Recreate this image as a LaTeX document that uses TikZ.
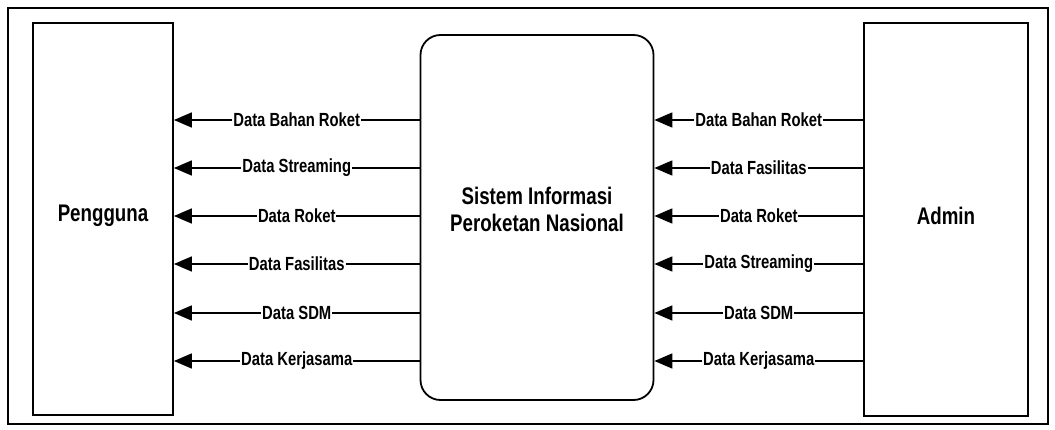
\documentclass[tikz,border=0pt]{standalone}
\usepackage{fontspec}
\setmainfont{Liberation Sans}[FakeStretch=0.78]
\usetikzlibrary{arrows.meta,positioning}
\tikzset{
  entity/.style={draw, line width=1.8pt, align=center, inner sep=0pt,
    font=\fontsize{24}{27}\selectfont\bfseries},
  process/.style={entity, rounded corners=20pt},
  frame/.style={draw, line width=2.2pt},
  lbl/.style={fill=white, inner sep=1pt, font=\fontsize{19}{22}\selectfont\bfseries},
  arr/.style={-{Triangle[length=18pt, width=15pt]}, line width=1.8pt}
}
\begin{document}
\begin{tikzpicture}[x=1pt, y=-1pt]
  \useasboundingbox (0,0) rectangle (1055,430);
  \draw[frame] (8,8) rectangle (1048,424);

  \node[entity, minimum width=140pt, minimum height=392pt] (pengguna) at (103,219) {};
  \node[entity, draw=none] (penggunatxt) at (103,216) {Pengguna};
  \node[process, minimum width=233pt, minimum height=365pt] (sistem) at (537,217.5) {};
  \node[entity, draw=none] (sistemtxt) at (537,209) {Sistem Informasi\\Peroketan Nasional};
  \node[entity, minimum width=164pt, minimum height=393pt] (admin) at (946,219.5) {};
  \node[entity, draw=none] (admintxt) at (946,216) {Admin};

  % sistem -> pengguna
  \draw[arr] (sistem.west |- 0,120) -- node[lbl] {Data Bahan Roket} (pengguna.east |- 0,120);
  \draw[arr] (sistem.west |- 0,168) -- node[lbl] {Data Streaming} (pengguna.east |- 0,168);
  \draw[arr] (sistem.west |- 0,216) -- node[lbl] {Data Roket} (pengguna.east |- 0,216);
  \draw[arr] (sistem.west |- 0,264) -- node[lbl] {Data Fasilitas} (pengguna.east |- 0,264);
  \draw[arr] (sistem.west |- 0,313) -- node[lbl] {Data SDM} (pengguna.east |- 0,313);
  \draw[arr] (sistem.west |- 0,361) -- node[lbl] {Data Kerjasama} (pengguna.east |- 0,361);

  % admin -> sistem
  \draw[arr] (admin.west |- 0,120) -- node[lbl] {Data Bahan Roket} (sistem.east |- 0,120);
  \draw[arr] (admin.west |- 0,168) -- node[lbl] {Data Fasilitas} (sistem.east |- 0,168);
  \draw[arr] (admin.west |- 0,216) -- node[lbl] {Data Roket} (sistem.east |- 0,216);
  \draw[arr] (admin.west |- 0,264) -- node[lbl] {Data Streaming} (sistem.east |- 0,264);
  \draw[arr] (admin.west |- 0,313) -- node[lbl] {Data SDM} (sistem.east |- 0,313);
  \draw[arr] (admin.west |- 0,361) -- node[lbl] {Data Kerjasama} (sistem.east |- 0,361);
\end{tikzpicture}
\end{document}
